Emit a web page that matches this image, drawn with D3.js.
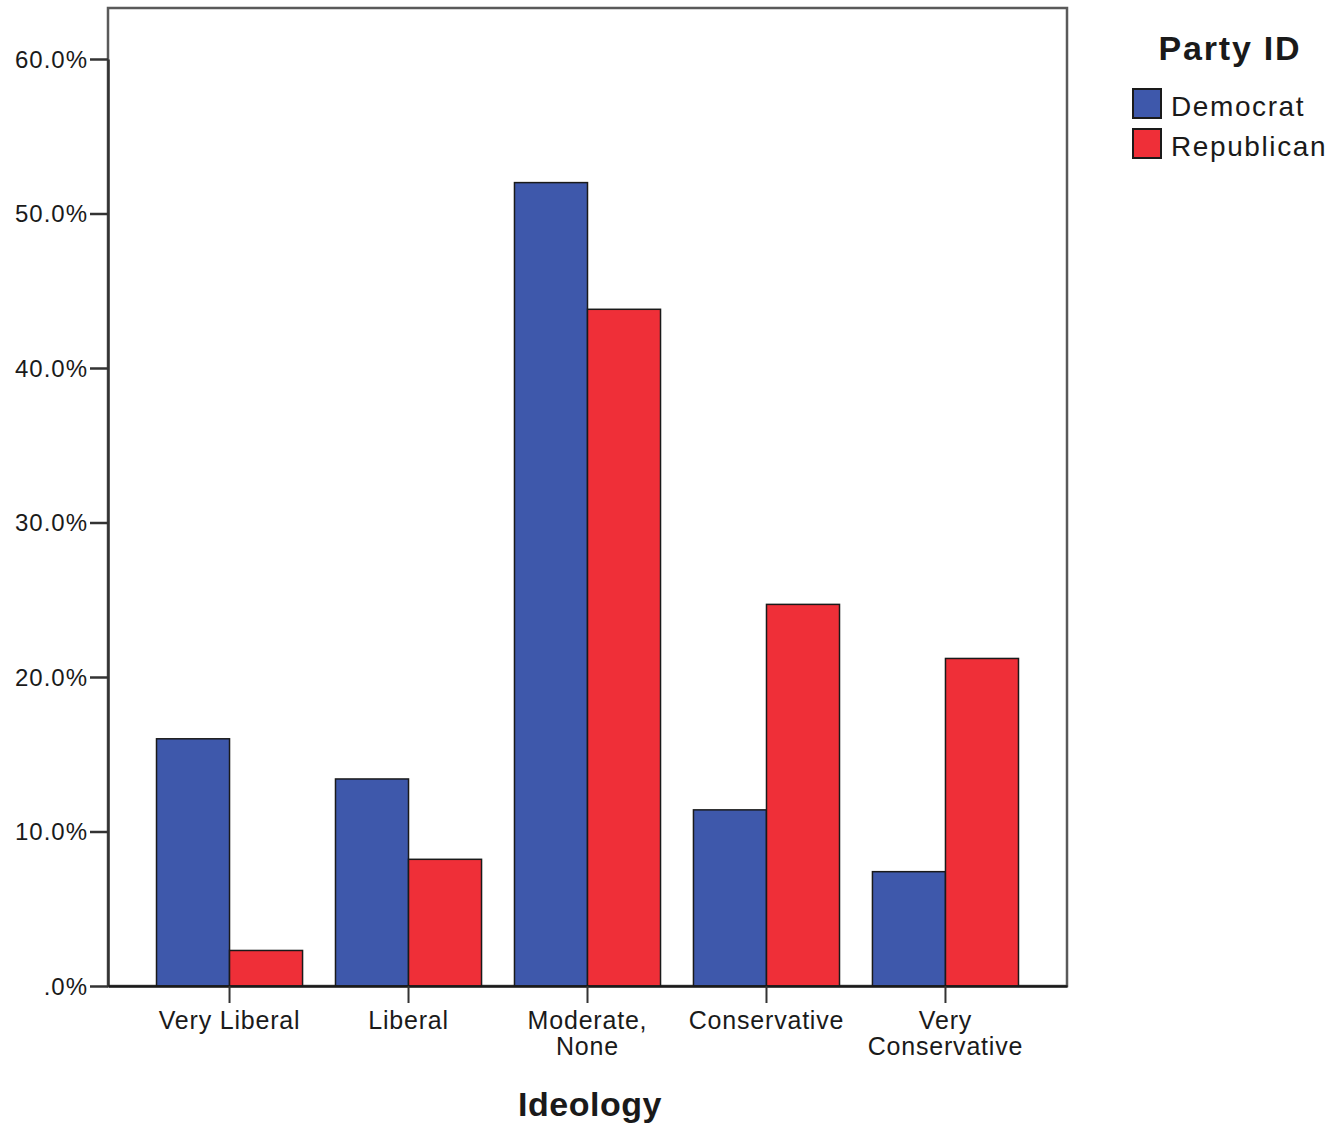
<!DOCTYPE html>
<html><head><meta charset="utf-8">
<script src="https://cdn.jsdelivr.net/npm/d3@7"></script>
<style>body{margin:0;background:#fff}svg{display:block}text{font-family:"Liberation Sans",Arial,sans-serif;fill:#1a1a1a}</style>
</head><body>
<script>
const categories = ["Very Liberal", "Liberal", "Moderate, None", "Conservative", "Very Conservative"];
const categoryLines = [["Very Liberal"], ["Liberal"], ["Moderate,", "None"], ["Conservative"], ["Very", "Conservative"]];
const seriesNames = ["Democrat", "Republican"];
const democrat = [16.0, 13.4, 52.0, 11.4, 7.4];
const republican = [2.3, 8.2, 43.8, 24.7, 21.2];
const yTicks = [0, 10, 20, 30, 40, 50, 60];
const colors = ["#3e58ab", "#ef2f38"];

const W = 1331, H = 1125;
const pLeft = 108, pRight = 1067, pTop = 8, pBottom = 986;
const svg = d3.select("body").append("svg").attr("width", W).attr("height", H);

const y = d3.scaleLinear().domain([0, 60]).range([pBottom, 59]);
const x = d3.scaleBand().domain(categories).range([pLeft, pRight]).paddingInner(0.184).paddingOuter(0.271);
const xs = d3.scaleBand().domain(seriesNames).range([0, x.bandwidth()]);

// frame
svg.append("rect").attr("x", pLeft).attr("y", pTop).attr("width", pRight - pLeft).attr("height", pBottom - pTop)
  .attr("fill", "none").attr("stroke", "#5a5a5a").attr("stroke-width", 2.5);

// bars
const data = categories.map((c, i) => ({c, vals: [democrat[i], republican[i]]}));
const g = svg.append("g");
data.forEach(d => {
  d.vals.forEach((v, j) => {
    g.append("rect")
      .attr("x", x(d.c) + xs(seriesNames[j]))
      .attr("y", y(v))
      .attr("width", xs.bandwidth())
      .attr("height", pBottom - y(v))
      .attr("fill", colors[j])
      .attr("stroke", "#1a1a1a").attr("stroke-width", 1.5);
  });
});

// y axis
const yAxis = svg.append("g").attr("transform", `translate(${pLeft},0)`)
  .call(d3.axisLeft(y).tickValues(yTicks).tickSize(18).tickSizeOuter(0).tickPadding(2)
    .tickFormat(v => v === 0 ? ".0%" : v.toFixed(1) + "%"));
yAxis.select(".domain").attr("stroke", "#333").attr("stroke-width", 2.5);
yAxis.selectAll(".tick line").attr("stroke", "#333").attr("stroke-width", 2.5);
yAxis.selectAll(".tick text").attr("font-size", 24).attr("fill", "#1a1a1a").attr("letter-spacing", 1)
  .style("font-family", "'Liberation Sans',Arial,sans-serif").attr("dy", "0.35em");

// x axis
const xAxis = svg.append("g").attr("transform", `translate(0,${pBottom})`)
  .call(d3.axisBottom(x).tickSize(17).tickSizeOuter(0).tickFormat(""));
xAxis.select(".domain").attr("stroke", "#1a1a1a").attr("stroke-width", 2.5);
xAxis.selectAll(".tick line").attr("stroke", "#333").attr("stroke-width", 2);
categories.forEach((c, i) => {
  const cx = x(c) + x.bandwidth() / 2;
  const t = svg.append("text").attr("x", cx).attr("y", 1029)
    .attr("text-anchor", "middle").attr("font-size", 25).attr("letter-spacing", 0.8);
  categoryLines[i].forEach((ln, k) => {
    t.append("tspan").attr("x", cx).attr("dy", k === 0 ? 0 : 26).text(ln);
  });
});

svg.append("text").attr("x", 590).attr("y", 1116).attr("text-anchor", "middle")
  .attr("font-size", 34).attr("font-weight", "bold").attr("letter-spacing", 0.5).text("Ideology");

// legend
svg.append("text").attr("x", 1230).attr("y", 60).attr("text-anchor", "middle")
  .attr("font-size", 34).attr("font-weight", "bold").attr("letter-spacing", 1.8).text("Party ID");
seriesNames.forEach((s, j) => {
  const yy = 89 + j * 40;
  svg.append("rect").attr("x", 1133).attr("y", yy).attr("width", 28).attr("height", 29)
    .attr("fill", colors[j]).attr("stroke", "#1a1a1a").attr("stroke-width", 2);
  svg.append("text").attr("x", 1171).attr("y", yy + 27).attr("font-size", 28).attr("letter-spacing", 1.6).text(s);
});
</script>
</body></html>
